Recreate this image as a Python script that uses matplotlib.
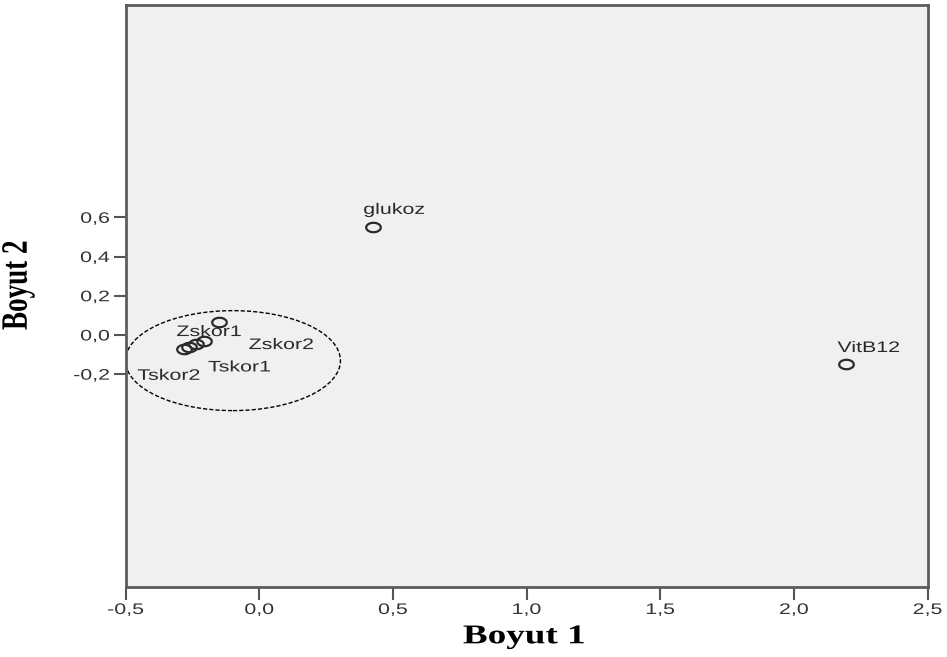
import numpy as np
import matplotlib
matplotlib.use("Agg")
import matplotlib.pyplot as plt
from matplotlib.patheffects import AbstractPathEffect
from matplotlib.transforms import Affine2D
from matplotlib.path import Path
from matplotlib.patches import Ellipse

# ---------------- data ----------------
variables = ["glukoz", "VitB12", "Zskor1", "", "Zskor2", "Tskor1", "Tskor2"]
dim1 = [0.424, 2.197, -0.152, -0.262, -0.205, -0.235, -0.283]
dim2 = [0.551, -0.148, 0.066, -0.062, -0.033, -0.048, -0.071]

xticks = [-0.5, 0.0, 0.5, 1.0, 1.5, 2.0, 2.5]
xticklabels = ["-0,5", "0,0", "0,5", "1,0", "1,5", "2,0", "2,5"]
yticks = [-0.2, 0.0, 0.2, 0.4, 0.6]
yticklabels = ["-0,2", "0,0", "0,2", "0,4", "0,6"]
xlabel = "Boyut 1"
ylabel = "Boyut 2"

# label offsets (points) relative to each point, as placed by the original software
label_offsets = [(-6.5, 9.4), (-6.5, 8.6), (-30.2, -10.1), (0, 0),
                 (32.0, -5.5), (8.5, -19.5), (-33.1, -22.3)]

# cluster outline
cluster_center = (-0.098, -0.131)
cluster_w, cluster_h = 0.804, 0.510


class StretchX(AbstractPathEffect):
    """Horizontally stretch text glyph outlines (the source image is stretched)."""
    def __init__(self, sx, anchor="center"):
        super().__init__()
        self.sx = sx
        self.anchor = anchor

    def draw_path(self, renderer, gc, tpath, affine, rgbFace=None):
        ext = tpath.get_extents(affine)
        if self.anchor == "left":
            cx = ext.x0
        elif self.anchor == "right":
            cx = ext.x1
        else:
            cx = 0.5 * (ext.x0 + ext.x1)
        t = affine + Affine2D().translate(-cx, 0).scale(self.sx, 1).translate(cx, 0)
        renderer.draw_path(gc, tpath, t, rgbFace)


SX = 1.4
fig = plt.figure(figsize=(9.47, 6.57), dpi=100)
fig.patch.set_facecolor("white")
ax = fig.add_axes([125.5 / 947, 1 - 587 / 657, (927.5 - 125.5) / 947, (587 - 4.5) / 657])
ax.set_facecolor("#f0f0f0")
ax.set_xlim(-0.5, 2.5)
ax.set_ylim(-1.286, 1.686)

for s in ax.spines.values():
    s.set_color("#5c5c5c")
    s.set_linewidth(2.0)

# ellipse-shaped (stretched) circle marker
th = np.linspace(0, 2 * np.pi, 80)
mpath = Path(np.column_stack([1.55 * np.cos(th), np.sin(th)]), closed=False)

ax.plot(dim1, dim2, linestyle="none", marker=mpath, markersize=10.5,
        markerfacecolor="none", markeredgecolor="#2a2a2a", markeredgewidth=1.6)

for name, x, y, (dx, dy) in zip(variables, dim1, dim2, label_offsets):
    if not name:
        continue
    ax.annotate(name, (x, y), xytext=(dx, dy), textcoords="offset points",
                ha="left", va="baseline", fontsize=11, family="Liberation Sans",
                color="#2a2a2a", path_effects=[StretchX(SX, "left")])

ax.add_patch(Ellipse(cluster_center, cluster_w, cluster_h, fill=False,
                     edgecolor="black", linestyle=(0, (3, 1.5)), linewidth=1.0))

ax.set_xticks(xticks)
ax.set_xticklabels(xticklabels)
ax.set_yticks(yticks)
ax.set_yticklabels(yticklabels)
ax.tick_params(direction="out", length=9, width=1.5, color="#555555",
               labelsize=11, labelcolor="#333333", pad=2.5)
for lab in ax.get_xticklabels():
    lab.set_family("Liberation Sans")
    lab.set_path_effects([StretchX(SX, "center")])
for lab in ax.get_yticklabels():
    lab.set_family("Liberation Sans")
    lab.set_path_effects([StretchX(SX, "right")])

ax.set_xlabel(xlabel, family="Liberation Serif", fontweight="bold", fontsize=19.5,
              color="black", path_effects=[StretchX(1.37, "center")])
ax.xaxis.set_label_coords(0.497, -0.064)
ax.set_ylabel(ylabel, family="Liberation Serif", fontweight="bold", fontsize=19.5,
              color="black", path_effects=[StretchX(1.37, "right")])
ax.yaxis.set_label_coords(-0.113, 0.518)

fig.savefig("out.png", dpi=100, facecolor="white")
